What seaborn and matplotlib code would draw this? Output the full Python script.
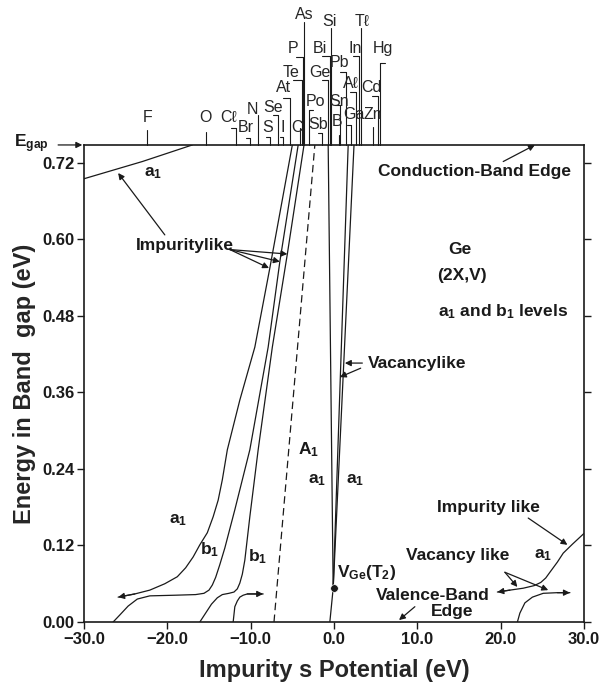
import numpy as np
import pandas as pd
import matplotlib
matplotlib.use("Agg")
import matplotlib.pyplot as plt
import seaborn as sns

sns.set_theme(style="ticks")
plt.rcParams['font.family'] = ['Liberation Sans', 'DejaVu Sans']
plt.rcParams['mathtext.default'] = 'regular'

# ---------------- data ----------------
# impurity-like a1 level just below the conduction band (top-left)
a1_top_x = [-30.0, -23.0, -17.0]
a1_top_y = [0.695, 0.722, 0.748]

# impurity-like a1 level (left family)
a1_left_x = [-25.9, -23.9, -22.1, -20.3, -18.8, -17.8, -16.9, -16.1, -15.2, -14.5,
             -13.9, -13.4, -12.8, -11.3, -9.5, -7.7, -5.0]
a1_left_y = [0.039, 0.044, 0.050, 0.060, 0.071, 0.085, 0.102, 0.121, 0.140, 0.165,
             0.191, 0.223, 0.270, 0.348, 0.431, 0.555, 0.748]

# b1 levels
b1_mid_x = [-26.5, -25.7, -24.7, -23.6, -22.1, -19.1, -16.6, -15.6, -15.0, -14.6, -14.2,
            -13.7, -13.1, -11.9, -10.1, -7.9, -6.5, -4.3]
b1_mid_y = [0.0, 0.011, 0.025, 0.036, 0.041, 0.042, 0.043, 0.045, 0.050, 0.058, 0.070,
            0.090, 0.116, 0.176, 0.270, 0.431, 0.565, 0.748]
b1_right_x = [-16.1, -15.4, -14.7, -14.0, -13.4, -12.6, -12.0, -11.6, -11.3, -11.0, -10.7,
              -10.1, -9.1, -7.4, -5.6, -3.6]
b1_right_y = [0.0, 0.014, 0.028, 0.038, 0.043, 0.045, 0.047, 0.052, 0.061, 0.075, 0.097,
              0.165, 0.270, 0.431, 0.577, 0.748]
b1_res_x = [-12.1, -11.9, -11.6, -11.3, -10.9, -10.4, -8.5]
b1_res_y = [0.0, 0.024, 0.033, 0.039, 0.042, 0.044, 0.044]

# A1 (dashed)
A1_x = [-7.2, -2.3]
A1_y = [0.0, 0.748]

# vacancy-like a1 levels from V_Ge(T2)
vac_left_x = [-0.5, -0.1, -0.7]
vac_left_y = [0.0, 0.053, 0.748]
vac_mid_x = [-0.1, 1.7]
vac_mid_y = [0.053, 0.748]
vac_right_x = [-0.1, 2.4]
vac_right_y = [0.053, 0.748]
vge_x, vge_y = 0.0, 0.053

# right-side levels
a1_r_x = [19.6, 21.1, 22.7, 24.0, 24.8, 25.4, 25.9, 26.8, 27.5, 28.6, 30.0]
a1_r_y = [0.047, 0.050, 0.053, 0.057, 0.062, 0.069, 0.078, 0.094, 0.108, 0.122, 0.139]
vac_r_x = [22.0, 22.3, 22.9, 23.8, 25.1, 26.8, 28.3]
vac_r_y = [0.0, 0.014, 0.030, 0.039, 0.045, 0.046, 0.046]

# impurity s potentials of elements (eV)
elem_names = ['F', 'O', 'Cℓ', 'Br', 'N', 'S', 'Se', 'I', 'At', 'C', 'Te', 'P', 'As',
              'Po', 'Sb', 'Ge', 'Bi', 'Si', 'B', 'Sn', 'Pb', 'Ga', 'Aℓ', 'In', 'Tℓ',
              'Zn', 'Cd', 'Hg']
elem_pot = [-22.4, -15.4, -11.8, -10.1, -9.1, -7.7, -6.7, -6.1, -5.3, -4.1, -3.8, -3.7, -3.6,
            -3.0, -1.4, -0.7, -0.5, -0.4, 0.6, 0.7, 1.4, 2.0, 2.6, 3.0, 3.2,
            4.7, 5.3, 5.5]

yticks = [0.00, 0.12, 0.24, 0.36, 0.48, 0.60, 0.72]
xticks = [-30, -20, -10, 0, 10, 20, 30]

# ---------------- layout for element ladder ----------------
# (line top y, hook end x, label x, label y)   in data units
elem_line_top = [0.772, 0.769, 0.775, 0.759, 0.795, 0.761, 0.795, 0.761, 0.822, 0.775, 0.850, 0.886, 0.941,
                 0.803, 0.767, 0.850, 0.888, 0.932, 0.764, 0.811, 0.863, 0.780, 0.831, 0.888, 0.932,
                 0.776, 0.825, 0.877]
elem_hook = [None, None, -12.4, -10.6, None, -8.1, -7.3, -6.5, -6.1, None, -4.9, -4.6, None,
             -2.5, -1.9, -1.5, -1.5, None, None, 0.1, 0.7, 1.6, 1.9, 2.3, None,
             None, 4.6, 6.1]
elem_lab_x = [-22.4, -15.4, -12.7, -10.6, -9.8, -8.0, -7.3, -6.1, -6.1, -4.5, -5.2, -4.9, -3.6,
              -2.2, -1.9, -1.7, -1.7, -0.5, 0.4, 0.6, 0.7, 2.4, 2.0, 2.5, 3.4,
              4.6, 4.5, 5.9]
elem_lab_y = [0.791, 0.791, 0.791, 0.775, 0.803, 0.776, 0.806, 0.776, 0.838, 0.776, 0.861, 0.900, 0.952,
              0.816, 0.780, 0.861, 0.900, 0.941, 0.784, 0.816, 0.877, 0.795, 0.845, 0.900, 0.941,
              0.795, 0.838, 0.900]

# ---------------- figure ----------------
fig, ax = plt.subplots(figsize=(6.04, 6.87), dpi=100)
fig.subplots_adjust(left=0.139, right=0.967, bottom=0.0946, top=0.789)

LW = 0.9
curves = [
    (a1_top_x, a1_top_y, '-'),
    (a1_left_x, a1_left_y, '-'),
    (b1_mid_x, b1_mid_y, '-'),
    (b1_right_x, b1_right_y, '-'),
    (b1_res_x, b1_res_y, '-'),
    (A1_x, A1_y, '--'),
    (vac_left_x, vac_left_y, '-'),
    (vac_mid_x, vac_mid_y, '-'),
    (vac_right_x, vac_right_y, '-'),
    (a1_r_x, a1_r_y, '-'),
    (vac_r_x, vac_r_y, '-'),
]
for xs, ys, ls in curves:
    df = pd.DataFrame({'x': xs, 'y': ys})
    sns.lineplot(data=df, x='x', y='y', sort=False, estimator=None, color='k',
                 lw=LW, linestyle=ls, ax=ax)
ax.lines[5].set_dashes((6, 3.5))

sns.scatterplot(x=[vge_x], y=[vge_y], color='k', s=30, ax=ax, zorder=5)

arrow_kw = dict(arrowstyle='-|>', color='k', lw=LW, mutation_scale=9, shrinkA=0, shrinkB=0)

def head(tip, prev):
    ax.annotate('', xy=tip, xytext=prev, arrowprops=arrow_kw)

head((a1_left_x[0], a1_left_y[0]), (a1_left_x[1], a1_left_y[1]))
head((b1_res_x[-1], b1_res_y[-1]), (b1_res_x[-2], b1_res_y[-2]))
head((a1_r_x[0], a1_r_y[0]), (a1_r_x[1], a1_r_y[1]))
head((vac_r_x[-1], vac_r_y[-1]), (vac_r_x[-2], vac_r_y[-2]))

ax.set_xlim(-30, 30)
ax.set_ylim(0, 0.748)
ax.set_xticks(xticks)
ax.set_xticklabels([f"{v:.1f}".replace('-', '−') for v in xticks])
ax.set_yticks(yticks)
ax.set_yticklabels([f"{v:.2f}" for v in yticks])
ax.tick_params(axis='both', which='both', direction='out', length=5, width=1,
               labelsize=12, pad=2, colors='k')
ax.tick_params(axis='y', right=True, labelright=False)
for lab in ax.get_xticklabels() + ax.get_yticklabels():
    lab.set_fontweight('bold')
for sp in ax.spines.values():
    sp.set_visible(True)
    sp.set_linewidth(1.2)
    sp.set_color('k')

ax.set_xlabel('Impurity s Potential (eV)', fontsize=17, fontweight='bold', labelpad=9)
ax.set_ylabel('Energy in Band  gap (eV)', fontsize=17, fontweight='bold', labelpad=4)

# element ladder above the plot
top = ax.get_ylim()[1]
for name, xp, lt, hk, lx, ly in zip(elem_names, elem_pot, elem_line_top, elem_hook,
                                    elem_lab_x, elem_lab_y):
    ax.plot([xp, xp], [top, lt], color='k', lw=0.8, clip_on=False)
    if hk is not None:
        ax.plot([xp, hk], [lt, lt], color='k', lw=0.8, clip_on=False)
    ax.text(lx, ly, name, ha='center', va='center', fontsize=11.5, clip_on=False)

# annotations
TB = dict(fontweight='bold', fontsize=12.5, color='k')
ax.text(-36.3, 0.750, r'E$_{gap}$', ha='center', va='center', clip_on=False, **TB)
ax.annotate('', xy=(-30.2, 0.748), xytext=(-33.1, 0.748), arrowprops=arrow_kw,
            annotation_clip=False)

ax.text(-21.7, 0.704, r'a$_1$', ha='center', va='center', **TB)
ax.text(-17.9, 0.591, 'Impuritylike', ha='center', va='center', **TB)
ax.annotate('', xy=(-25.9, 0.704), xytext=(-20.3, 0.607), arrowprops=arrow_kw)
for tx, ty in [(-5.6, 0.577), (-6.5, 0.565), (-7.8, 0.555)]:
    ax.annotate('', xy=(tx, ty), xytext=(-12.5, 0.584), arrowprops=arrow_kw)

ax.text(-18.7, 0.160, r'a$_1$', ha='center', va='center', **TB)
ax.text(-14.9, 0.113, r'b$_1$', ha='center', va='center', **TB)
ax.text(-9.2, 0.102, r'b$_1$', ha='center', va='center', **TB)
ax.text(-3.1, 0.270, r'A$_1$', ha='center', va='center', **TB)
ax.text(-2.0, 0.223, r'a$_1$', ha='center', va='center', **TB)
ax.text(2.5, 0.223, r'a$_1$', ha='center', va='center', **TB)
ax.text(0.4, 0.077, r'V$_{Ge}$(T$_2$)', ha='left', va='center', **TB)

ax.text(4.1, 0.406, 'Vacancylike', ha='left', va='center', **TB)
ax.annotate('', xy=(1.3, 0.406), xytext=(3.4, 0.406), arrowprops=arrow_kw)
ax.annotate('', xy=(0.7, 0.384), xytext=(3.2, 0.398), arrowprops=arrow_kw)

ax.text(15.1, 0.584, 'Ge', ha='center', va='center', **TB)
ax.text(15.4, 0.544, '(2X,V)', ha='center', va='center', **TB)
ax.text(20.3, 0.486, r'a$_1$ and b$_1$ levels', ha='center', va='center', **TB)

ax.text(16.8, 0.706, 'Conduction-Band Edge', ha='center', va='center', **TB)
ax.annotate('', xy=(24.1, 0.748), xytext=(20.3, 0.722), arrowprops=arrow_kw,
            annotation_clip=False)

ax.text(18.5, 0.180, 'Impurity like', ha='center', va='center', **TB)
ax.annotate('', xy=(28.0, 0.121), xytext=(23.3, 0.163), arrowprops=arrow_kw)
ax.text(25.1, 0.105, r'a$_1$', ha='center', va='center', **TB)

ax.text(14.8, 0.105, 'Vacancy like', ha='center', va='center', **TB)
ax.annotate('', xy=(22.0, 0.055), xytext=(20.5, 0.078), arrowprops=arrow_kw)
ax.annotate('', xy=(25.7, 0.050), xytext=(20.5, 0.078), arrowprops=arrow_kw)

ax.text(11.9, 0.042, 'Valence-Band', ha='center', va='center', **TB)
ax.text(14.2, 0.016, 'Edge', ha='center', va='center', **TB)
ax.annotate('', xy=(7.8, 0.003), xytext=(9.7, 0.024), arrowprops=arrow_kw)

fig.savefig('out.png', dpi=100)
